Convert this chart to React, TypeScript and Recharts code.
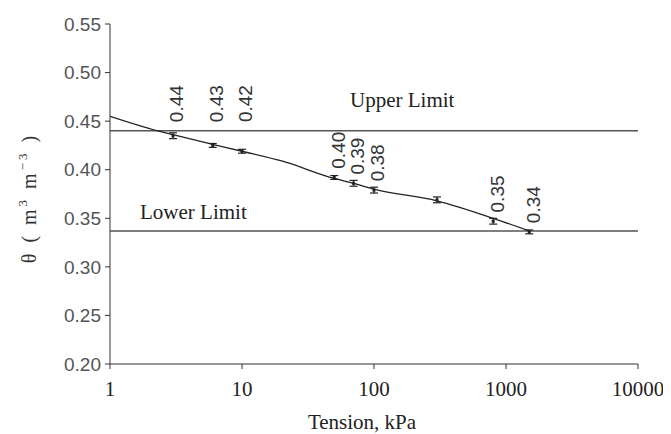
import React from "react";
import {
  ComposedChart,
  Line,
  Scatter,
  ErrorBar,
  XAxis,
  YAxis,
  ReferenceLine,
  Label,
} from "recharts";

// measured points (tension kPa, water content m3/m3)
const tension = [3, 6, 10, 50, 70, 100, 300, 800, 1500];
const theta = [0.435, 0.425, 0.419, 0.392, 0.386, 0.379, 0.369, 0.347, 0.336];
const thetaErr = [0.003, 0.002, 0.002, 0.002, 0.003, 0.003, 0.003, 0.003, 0.002];
const pointLabels = ["0.44", "0.43", "0.42", "0.40", "0.39", "0.38", "", "0.35", "0.34"];

// fitted curve
const fitTension = [1, 2.3, 3, 6, 10, 20, 50, 70, 100, 300, 800, 1500];
const fitTheta = [0.455, 0.44, 0.436, 0.426, 0.419, 0.409, 0.391, 0.386, 0.38, 0.368, 0.35, 0.337];

const xTicks = [1, 10, 100, 1000, 10000];
const yTicks = [0.2, 0.25, 0.3, 0.35, 0.4, 0.45, 0.5, 0.55];

const UPPER = 0.44;
const LOWER = 0.337;

const points = tension.map((t, i) => ({ tension: t, theta: theta[i], err: thetaErr[i] }));
const fit = fitTension.map((t, i) => ({ tension: t, theta: fitTheta[i] }));
// labels sit just above each point; if one would cross the upper limit line it goes above it
const LABEL_GAP = 0.009;
const LABEL_LEN = 0.038;
const labelData = tension.map((t, i) => {
  const start = theta[i] + LABEL_GAP;
  const crosses = start < UPPER + LABEL_GAP && start + LABEL_LEN > UPPER;
  return { tension: t, theta: crosses ? UPPER + LABEL_GAP : start, label: pointLabels[i] };
});

const serif = "'Liberation Serif', 'Times New Roman', serif";
const sans = "'Liberation Sans', Arial, sans-serif";

function Dot(props: any) {
  const { cx, cy } = props;
  return <rect x={cx - 1.5} y={cy - 1.5} width={3} height={3} fill="#222" />;
}

function ValueLabel(props: any) {
  const { cx, cy, payload } = props;
  if (!payload?.label) return <g />;
  const x = cx + 4;
  return (
    <text
      x={x}
      y={cy}
      transform={`rotate(-90, ${x}, ${cy})`}
      textAnchor="start"
      dominantBaseline="central"
      fontFamily={sans}
      fontSize={19}
      fill="#333"
    >
      {payload.label}
    </text>
  );
}

function LimitLabel(props: any) {
  const { viewBox, text, dx, dy } = props;
  return (
    <text x={viewBox.x + dx} y={viewBox.y + dy} fontFamily={serif} fontSize={21} fill="#222">
      {text}
    </text>
  );
}

function YTitle(props: any) {
  const { viewBox } = props;
  const cx = viewBox.x + 21;
  const cy = viewBox.y + viewBox.height / 2 + 4;
  return (
    <text
      x={cx}
      y={cy}
      transform={`rotate(-90, ${cx}, ${cy})`}
      textAnchor="middle"
      dominantBaseline="central"
      fontFamily={serif}
      fontSize={20}
      letterSpacing={3}
      fill="#333"
    >
      θ ( m<tspan dy={-7} fontSize={13}>3</tspan>
      <tspan dy={7}> m</tspan>
      <tspan dy={-7} fontSize={13}>−3</tspan>
      <tspan dy={7}> )</tspan>
    </text>
  );
}

function XTitle(props: any) {
  const { viewBox } = props;
  return (
    <text
      x={viewBox.x + viewBox.width / 2 - 12}
      y={viewBox.y + 65}
      textAnchor="middle"
      fontFamily={serif}
      fontSize={21}
      fill="#222"
    >
      Tension, kPa
    </text>
  );
}

export default function App() {
  return (
    <div style={{ width: 663, height: 426, background: "#fff" }}>
      <ComposedChart width={663} height={426} margin={{ top: 16, right: 33, bottom: 0, left: 0 }}>
        <XAxis
          dataKey="tension"
          type="number"
          scale="log"
          domain={[1, 10000]}
          ticks={xTicks}
          allowDataOverflow
          height={70}
          tickSize={5}
          tickMargin={12}
          stroke="#333"
          tick={{ fill: "#222", fontFamily: serif, fontSize: 21 }}
          tickFormatter={(v: number) => String(v)}
        >
          <Label content={<XTitle />} />
        </XAxis>
        <YAxis
          dataKey="theta"
          type="number"
          domain={[0.2, 0.55]}
          ticks={yTicks}
          allowDataOverflow
          width={102}
          tickSize={5}
          tickMargin={4}
          stroke="#333"
          tick={{ fill: "#555", fontFamily: sans, fontSize: 19 }}
          tickFormatter={(v: number) => v.toFixed(2)}
        >
          <Label content={<YTitle />} />
        </YAxis>

        <ReferenceLine
          y={UPPER}
          stroke="#555"
          strokeWidth={1.5}
          label={<LimitLabel text="Upper Limit" dx={240} dy={-24} />}
        />
        <ReferenceLine
          y={LOWER}
          stroke="#555"
          strokeWidth={1.5}
          label={<LimitLabel text="Lower Limit" dx={30} dy={-12} />}
        />

        <Line
          data={fit}
          dataKey="theta"
          type="monotone"
          stroke="#222"
          strokeWidth={1.3}
          dot={false}
          isAnimationActive={false}
        />
        <Scatter data={points} dataKey="theta" shape={<Dot />} isAnimationActive={false}>
          <ErrorBar dataKey="err" direction="y" width={4} stroke="#222" strokeWidth={1.2} />
        </Scatter>
        <Scatter data={labelData} dataKey="theta" shape={<ValueLabel />} isAnimationActive={false} />
      </ComposedChart>
    </div>
  );
}
